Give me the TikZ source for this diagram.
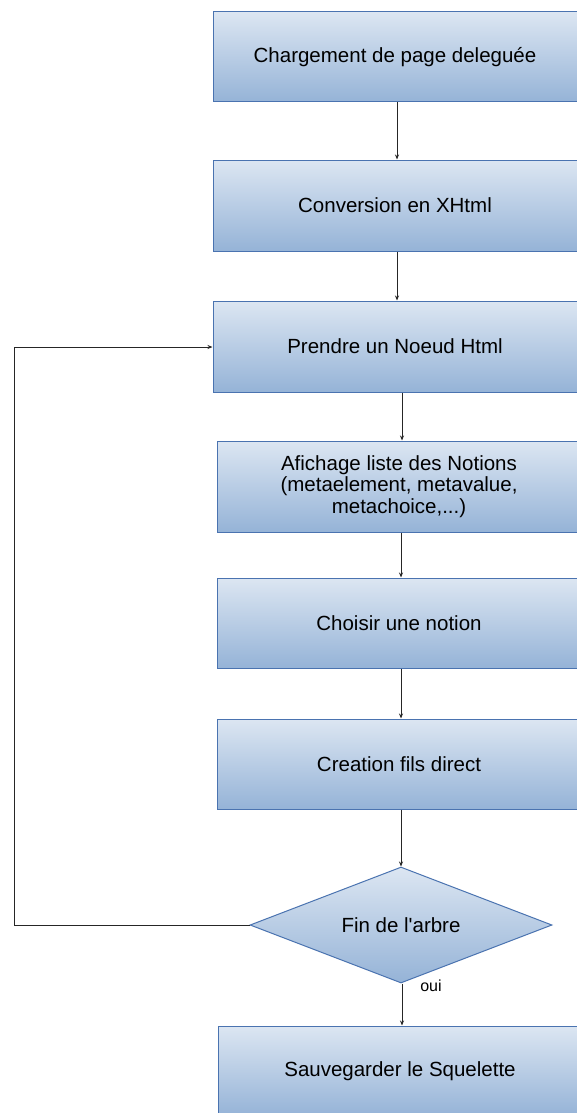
\documentclass[tikz,border=0pt]{standalone}
\usepackage{fontspec}
\setmainfont{Liberation Sans}
\newfontfamily\plainsans{Liberation Sans}
\usetikzlibrary{shapes.geometric,arrows.meta}
\definecolor{boxtop}{RGB}{220,230,242}
\definecolor{boxbot}{RGB}{149,179,215}
\definecolor{boxline}{RGB}{74,115,176}
\begin{document}
\begin{tikzpicture}[x=1pt,y=-1pt,
  stepbox/.style={rectangle, draw=boxline, line width=1pt, top color=boxtop, bottom color=boxbot,
    minimum width=364pt, minimum height=90pt, inner sep=0pt, align=center,
    font=\fontsize{20.5}{21.7}\selectfont},
  decision/.style={diamond, draw=boxline, line width=1pt, top color=boxtop, bottom color=boxbot,
    minimum width=302pt, minimum height=116pt, aspect=2.6, inner sep=0pt,
    font=\plainsans\fontsize{20.5}{21.7}\selectfont},
  arr/.style={draw=black!85, line width=1pt, -{Stealth[length=5pt,width=4pt]}},
  ln/.style={draw=black!85, line width=1pt}]
\clip (0,0) rectangle (577,1113);
\fill[white] (0,0) rectangle (577,1113);
\node[stepbox] (b1) at (395,57) {Chargement de page deleguée};
\node[stepbox, minimum height=91pt] (b2) at (395,205.5) {Conversion en XHtml};
\node[stepbox, minimum height=91pt] (b3) at (395,346.5) {Prendre un Noeud Html};
\node[stepbox, minimum height=91pt] (b4) at (399,486.5) {Afichage liste des Notions\\(metaelement, metavalue,\\metachoice,...)};
\node[stepbox] (b5) at (399,623) {Choisir une notion};
\node[stepbox] (b6) at (399,764) {Creation fils direct};
\node[decision] (d) at (401,925) {Fin de l'arbre};
\node[stepbox] (b7) at (400,1071) {Sauvegarder le Squelette};
\node[font=\fontsize{16}{18}\selectfont] (oui) at (431,986) {oui};
\coordinate (l1) at (14,925);
\coordinate (l2) at (14,347);
\draw[arr] (b1.south -| 397,0) -- (b2.north -| 397,0);
\draw[arr] (b2.south -| 397,0) -- (b3.north -| 397,0);
\draw[arr] (b3.south -| 402,0) -- (b4.north -| 402,0);
\draw[arr] (b4.south -| 401,0) -- (b5.north -| 401,0);
\draw[arr] (b5.south -| 401,0) -- (b6.north -| 401,0);
\draw[arr] (b6.south -| 401,0) -- (d.north);
\draw[arr] (d.south -| 402,0) -- (b7.north -| 402,0);
\draw[arr] (d.west) -- (l1) -- (l2) -- (l2 -| b3.west);
\end{tikzpicture}
\end{document}
